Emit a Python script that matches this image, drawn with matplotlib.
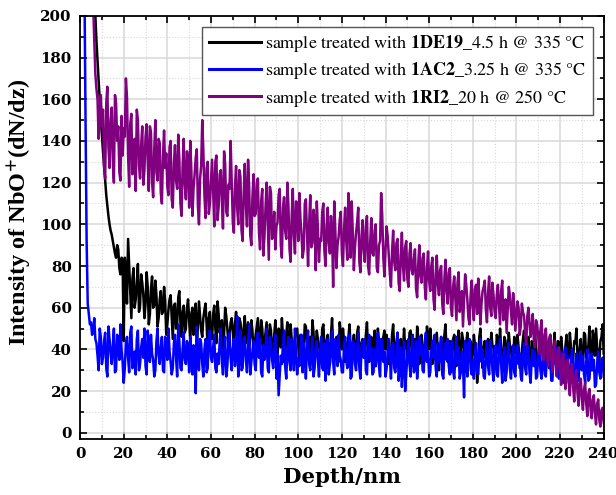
import numpy as np
import matplotlib
matplotlib.use("Agg")
import matplotlib.pyplot as plt
from matplotlib.ticker import MultipleLocator

plt.rcParams['mathtext.fontset'] = 'stix'

# depth axis (nm): readings at whole nm and at the half nm in between
depth = np.arange(1, 241)
depth_mid = depth - 0.5

# sample treated with 1DE19_4.5 h @ 335 °C
de19 = [400, 380, 350, 310, 270, 235, 200, 178, 160, 143,
        128, 114, 104, 97, 92, 86, 90, 79, 84, 44,
        78, 93, 66, 74, 60, 72, 58, 76, 66, 62,
        70, 57, 75, 61, 66, 55, 68, 58, 63, 52,
        64, 56, 61, 50, 65, 53, 58, 48, 60, 54,
        57, 47, 62, 51, 56, 46, 59, 52, 55, 45,
        57, 50, 63, 48, 54, 47, 56, 42, 53, 49,
        52, 45, 55, 47, 50, 43, 53, 46, 49, 42,
        51, 45, 54, 40, 48, 44, 52, 39, 47, 44,
        50, 41, 46, 38, 53, 43, 45, 40, 49, 42,
        47, 39, 52, 43, 44, 37, 48, 41, 45, 38,
        50, 42, 44, 36, 47, 41, 43, 38, 53, 40,
        44, 37, 46, 41, 42, 35, 48, 40, 43, 37,
        47, 39, 42, 36, 49, 41, 44, 38, 46, 40,
        42, 35, 47, 40, 43, 37, 45, 39, 41, 34,
        48, 40, 43, 36, 46, 39, 42, 37, 51, 40,
        44, 36, 45, 39, 41, 35, 47, 38, 42, 29,
        45, 39, 41, 36, 48, 40, 43, 37, 44, 38,
        42, 24, 46, 38, 41, 36, 45, 39, 42, 35,
        47, 38, 41, 36, 44, 39, 42, 34, 46, 38,
        41, 35, 45, 37, 40, 34, 44, 38, 41, 36,
        46, 37, 40, 34, 43, 38, 41, 35, 44, 37,
        40, 33, 47, 36, 41, 35, 43, 37, 40, 34,
        48, 36, 42, 35, 49, 37, 41, 34, 46, 38]
de19_mid = [410, 390, 365, 330, 290, 252, 217, 188, 169, 150,
            135, 121, 109, 100, 95, 89, 84, 88, 76, 82,
            84, 62, 80, 55, 79, 64, 81, 61, 72, 55,
            77, 52, 69, 60, 73, 51, 64, 57, 70, 47,
            59, 66, 45, 62, 52, 68, 46, 61, 50, 64,
            44, 60, 53, 41, 63, 49, 55, 62, 40, 58,
            45, 61, 43, 57, 52, 40, 60, 50, 46, 55,
            41, 58, 44, 53, 39, 56, 48, 42, 54, 38,
            47, 55, 37, 50, 43, 53, 36, 49, 41, 54,
            36, 48, 55, 34, 47, 39, 52, 35, 46, 50,
            33, 45, 40, 51, 35, 46, 54, 34, 49, 42,
            36, 52, 38, 47, 33, 55, 37, 46, 34, 48,
            50, 34, 43, 52, 32, 47, 38, 51, 33, 45,
            39, 53, 34, 46, 40, 32, 50, 43, 35, 49,
            47, 33, 38, 52, 31, 48, 40, 34, 50, 44,
            36, 49, 32, 45, 51, 33, 47, 41, 35, 46,
            50, 33, 42, 48, 30, 46, 39, 52, 34, 44,
            36, 47, 32, 49, 35, 45, 30, 48, 41, 34,
            47, 38, 33, 50, 31, 44, 39, 34, 48, 41,
            32, 45, 50, 30, 46, 35, 48, 41, 32, 45,
            47, 31, 39, 49, 33, 46, 30, 43, 48, 32,
            39, 50, 31, 45, 35, 47, 32, 48, 30, 43,
            46, 30, 42, 35, 48, 31, 44, 50, 32, 45,
            33, 47, 40, 51, 30, 45, 50, 32, 44, 52]

# sample treated with 1AC2_3.25 h @ 335 °C
ac2 = [260, 215, 92, 57, 53, 49, 45, 37, 50, 33,
       44, 31, 51, 38, 42, 29, 47, 35, 40, 24,
       43, 36, 48, 31, 39, 45, 30, 41, 36, 32,
       49, 34, 38, 27, 44, 37, 41, 30, 46, 35,
       39, 28, 43, 36, 52, 31, 40, 35, 44, 29,
       38, 42, 19, 37, 45, 33, 40, 29, 48, 36,
       41, 31, 38, 44, 34, 39, 27, 43, 36, 40,
       32, 56, 37, 30, 45, 35, 41, 28, 39, 33,
       44, 36, 29, 42, 38, 31, 46, 35, 40, 26,
       18, 37, 43, 32, 39, 34, 45, 30, 38, 36,
       41, 29, 37, 44, 33, 38, 27, 42, 35, 39,
       31, 43, 36, 28, 40, 34, 45, 32, 37, 29,
       42, 35, 38, 26, 44, 33, 39, 31, 41, 36,
       30, 43, 35, 28, 40, 37, 32, 45, 34, 27,
       39, 36, 42, 31, 38, 25, 41, 34, 20, 37,
       33, 40, 29, 44, 35, 38, 30, 42, 34, 27,
       39, 36, 31, 43, 34, 28, 40, 35, 32, 41,
       30, 37, 33, 26, 39, 17, 36, 42, 31, 35,
       38, 29, 41, 34, 27, 37, 32, 44, 30, 35,
       28, 39, 33, 36, 25, 40, 31, 35, 29, 38,
       33, 27, 37, 31, 42, 29, 35, 32, 26, 38,
       30, 34, 28, 39, 31, 25, 36, 33, 29, 35,
       27, 38, 31, 24, 35, 29, 33, 26, 37, 30,
       28, 34, 25, 36, 30, 22, 33, 29, 35, 27]
ac2_mid = [270, 250, 150, 62, 52, 47, 55, 43, 30, 46,
           36, 48, 27, 45, 33, 50, 30, 42, 52, 34,
           31, 46, 29, 51, 34, 28, 49, 33, 45, 50,
           28, 42, 47, 35, 30, 50, 33, 46, 29, 44,
           50, 34, 31, 47, 27, 44, 30, 48, 33, 41,
           46, 28, 36, 51, 30, 43, 27, 45, 31, 49,
           34, 47, 29, 33, 50, 28, 46, 32, 48, 30,
           45, 37, 27, 49, 31, 46, 29, 52, 34, 44,
           30, 48, 45, 27, 35, 50, 29, 43, 31, 47,
           38, 28, 33, 49, 26, 46, 30, 42, 50, 28,
           32, 47, 43, 26, 49, 30, 46, 31, 44, 27,
           46, 30, 25, 45, 33, 49, 28, 43, 47, 35,
           29, 46, 31, 47, 27, 43, 30, 48, 26, 44,
           45, 28, 47, 41, 29, 32, 48, 27, 44, 39,
           31, 45, 26, 43, 29, 48, 30, 22, 44, 28,
           45, 27, 47, 31, 26, 46, 42, 29, 48, 39,
           29, 44, 47, 27, 40, 46, 26, 43, 45, 28,
           44, 26, 46, 41, 29, 34, 44, 27, 45, 28,
           26, 43, 28, 45, 40, 26, 44, 28, 41, 25,
           42, 27, 45, 24, 41, 29, 43, 26, 42, 27,
           42, 38, 25, 43, 28, 41, 24, 40, 39, 27,
           41, 26, 42, 27, 43, 37, 25, 40, 41, 26,
           39, 24, 41, 37, 23, 40, 26, 38, 25, 39,
           37, 24, 40, 26, 38, 35, 23, 39, 26, 36]

# sample treated with 1RI2_20 h @ 250 °C
ri2 = [420, 380, 330, 280, 240, 205, 172, 160, 153, 147,
       128, 158, 137, 150, 131, 162, 140, 125, 152, 146,
       170, 133, 148, 124, 141, 155, 128, 138, 119, 142,
       131, 147, 120, 136, 125, 141, 115, 133, 127, 118,
       137, 112, 129, 121, 143, 110, 128, 119, 135, 108,
       126, 117, 132, 109, 122, 150, 114, 127, 105, 121,
       116, 130, 102, 124, 111, 135, 106, 119, 140, 101,
       118, 108, 126, 97, 115, 110, 131, 95, 113, 104,
       120, 96, 111, 85, 108, 102, 118, 93, 106, 99,
       114, 90, 108, 97, 120, 88, 104, 95, 111, 92,
       103, 84, 110, 96, 100, 89, 107, 78, 98, 93,
       106, 87, 99, 91, 104, 70, 97, 90, 102, 86,
       98, 92, 115, 84, 96, 89, 101, 82, 94, 88,
       99, 80, 92, 86, 97, 79, 90, 115, 84, 88,
       94, 76, 87, 82, 91, 72, 85, 80, 89, 74,
       86, 78, 83, 69, 81, 75, 84, 70, 79, 73,
       80, 64, 76, 71, 78, 62, 74, 68, 77, 60,
       70, 65, 72, 58, 68, 63, 71, 55, 66, 61,
       69, 57, 65, 62, 70, 59, 67, 60, 72, 58,
       66, 61, 68, 54, 64, 59, 66, 52, 61, 56,
       60, 51, 58, 48, 56, 53, 50, 44, 54, 46,
       49, 42, 47, 39, 45, 36, 41, 33, 38, 30,
       35, 27, 32, 24, 30, 22, 27, 19, 24, 16,
       21, 14, 19, 11, 16, 9, 14, 6, 11, 5]
ri2_mid = [440, 400, 355, 305, 260, 222, 188, 165, 141, 162,
           155, 122, 166, 127, 156, 120, 158, 147, 121, 133,
           142, 161, 118, 153, 130, 116, 150, 122, 147, 126,
           148, 116, 144, 113, 150, 121, 139, 110, 145, 134,
           114, 140, 108, 138, 117, 131, 104, 141, 112, 130,
           140, 104, 124, 136, 100, 128, 135, 103, 130, 110,
           131, 99, 133, 108, 126, 98, 129, 104, 117, 121,
           96, 128, 100, 123, 92, 129, 99, 118, 90, 124,
           105, 122, 88, 117, 94, 120, 83, 115, 96, 88,
           101, 117, 84, 113, 93, 109, 82, 117, 86, 110,
           115, 95, 88, 112, 80, 114, 91, 102, 111, 82,
           92, 110, 80, 108, 86, 96, 111, 79, 94, 106,
           80, 108, 83, 102, 111, 78, 96, 108, 77, 102,
           82, 104, 76, 103, 85, 100, 77, 92, 104, 75,
           99, 85, 70, 97, 78, 93, 68, 96, 73, 92,
           70, 91, 76, 88, 65, 90, 72, 86, 64, 87,
           68, 84, 59, 85, 66, 80, 57, 83, 62, 79,
           56, 75, 54, 77, 62, 51, 76, 64, 52, 73,
           54, 71, 74, 52, 68, 73, 53, 75, 56, 66,
           55, 71, 52, 73, 56, 48, 70, 58, 67, 49,
           63, 47, 62, 56, 42, 60, 46, 57, 41, 52,
           38, 54, 35, 50, 32, 47, 29, 44, 27, 41,
           23, 38, 21, 35, 18, 33, 15, 30, 13, 26,
           11, 24, 8, 21, 7, 18, 4, 16, 3, 12]

labels = [r'sample treated with $\mathbf{1DE19}$_4.5 h @ 335 °C',
          r'sample treated with $\mathbf{1AC2}$_3.25 h @ 335 °C',
          r'sample treated with $\mathbf{1RI2}$_20 h @ 250 °C']
colors = ['black', '#0000ff', '#800080']

fig = plt.figure(figsize=(6.16, 4.95), dpi=100)
ax = fig.add_axes([0.130, 0.113, 0.850, 0.855])

x = np.column_stack([depth_mid, depth]).ravel()
for mid, main, lab, col in zip([de19_mid, ac2_mid, ri2_mid], [de19, ac2, ri2], labels, colors):
    y = np.column_stack([mid, main]).ravel()
    ax.plot(x, y, color=col, lw=1.8, label=lab)

ax.set_xlim(0, 240)
ax.set_ylim(-3, 200)
ax.xaxis.set_major_locator(MultipleLocator(20))
ax.xaxis.set_minor_locator(MultipleLocator(10))
ax.yaxis.set_major_locator(MultipleLocator(20))
ax.yaxis.set_minor_locator(MultipleLocator(10))

ax.grid(which='major', color='#d9d9d9', lw=1.1)
ax.grid(which='minor', color='#d9d9d9', lw=0.8, ls=':')
ax.set_axisbelow(True)

ax.tick_params(which='both', direction='in', top=True, right=True, width=1.2)
ax.tick_params(which='major', length=5, pad=6)
ax.tick_params(which='minor', length=3)
for s in ax.spines.values():
    s.set_linewidth(1.3)

for t in ax.get_xticklabels() + ax.get_yticklabels():
    t.set_fontfamily('DejaVu Serif')
    t.set_fontweight('bold')
    t.set_fontsize(10.8)

ax.set_xlabel('Depth/nm', family='DejaVu Serif', weight='bold', fontsize=15.3, labelpad=4)
ax.set_ylabel(r'Intensity of NbO$^{\mathbf{+}}$(dN/dz)', family='Liberation Serif',
              weight='bold', fontsize=17.5)
ax.yaxis.set_label_coords(-0.088, 0.535)

leg = ax.legend(loc='upper right', fancybox=False, edgecolor='#555555', framealpha=1,
                prop={'family': 'STIXGeneral', 'size': 13}, handlelength=2.9,
                handletextpad=0.25, borderaxespad=0.6, labelspacing=0.35,
                borderpad=0.35)
leg.get_frame().set_linewidth(1.0)
for line in leg.get_lines():
    line.set_linewidth(2.2)

fig.savefig('out.png', dpi=100)
